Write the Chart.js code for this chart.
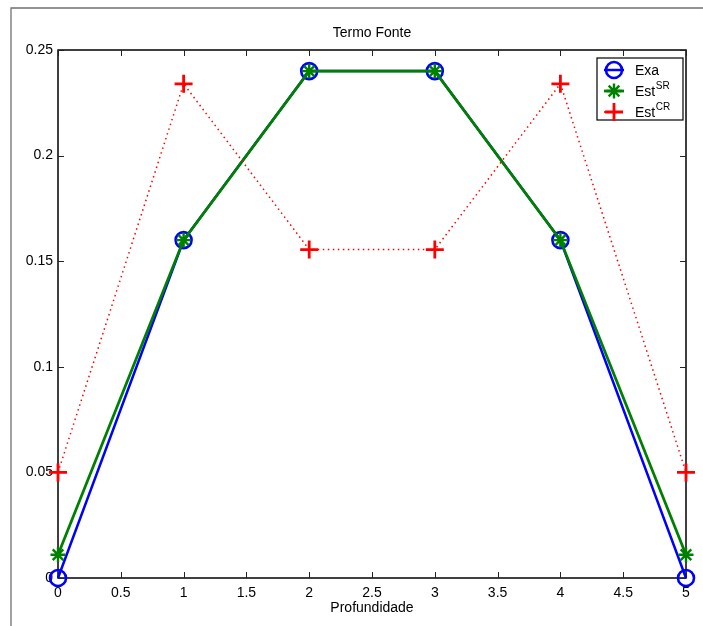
<!DOCTYPE html>
<html>
<head>
<meta charset="utf-8">
<script src="https://cdn.jsdelivr.net/npm/chart.js@4/dist/chart.umd.min.js"></script>
<style>
html,body{margin:0;padding:0;background:#fff;}
#wrap{position:relative;width:703px;height:626px;}
</style>
</head>
<body>
<div id="wrap"><canvas id="c" width="703" height="626"></canvas></div>
<script>
// ---- data ----
const depth = [0, 1, 2, 3, 4, 5];
const exa   = [0, 0.16, 0.24, 0.24, 0.16, 0];
const estSR = [0.011, 0.16, 0.24, 0.24, 0.16, 0.011];
const estCR = [0.05, 0.234, 0.1555, 0.1555, 0.234, 0.05];
const legendBase = ['Exa', 'Est', 'Est'];
const legendSup  = ['', 'SR', 'CR'];
const xTicks = [0, 0.5, 1, 1.5, 2, 2.5, 3, 3.5, 4, 4.5, 5];
const yTicks = [0, 0.05, 0.1, 0.15, 0.2, 0.25];
const titleText = 'Termo Fonte';
const xLabelText = 'Profundidade';

const FONT = '"Liberation Sans", Arial, Helvetica, sans-serif';
const toXY = (ys) => depth.map((x, i) => ({x, y: ys[i]}));
const fmt = v => String(Math.round(v * 100) / 100);

const decor = {
  id: 'decor',
  beforeDatasetsDraw(chart) {
    const ctx = chart.ctx;
    const a = chart.chartArea;
    const xs = chart.scales.x, ys = chart.scales.y;
    ctx.save();
    // outer figure frame
    ctx.strokeStyle = '#707070';
    ctx.lineWidth = 1.3;
    ctx.beginPath();
    ctx.moveTo(11, 626); ctx.lineTo(11, 8); ctx.lineTo(703, 8);
    ctx.stroke();
    // axes box
    ctx.strokeStyle = '#000';
    ctx.lineWidth = 1.5;
    ctx.strokeRect(a.left, a.top, a.right - a.left, a.bottom - a.top);
    // inward ticks
    ctx.lineWidth = 1;
    ctx.strokeStyle = '#222';
    const tl = 6;
    ctx.beginPath();
    xTicks.forEach(v => {
      const px = Math.round(xs.getPixelForValue(v)) + 0.5;
      ctx.moveTo(px, a.bottom); ctx.lineTo(px, a.bottom - tl);
      ctx.moveTo(px, a.top); ctx.lineTo(px, a.top + tl);
    });
    yTicks.forEach(v => {
      const py = Math.round(ys.getPixelForValue(v)) + 0.5;
      ctx.moveTo(a.left, py); ctx.lineTo(a.left + tl, py);
      ctx.moveTo(a.right, py); ctx.lineTo(a.right - tl, py);
    });
    ctx.stroke();
    // title and x label
    ctx.fillStyle = '#000';
    ctx.font = '14px ' + FONT;
    ctx.textAlign = 'center';
    ctx.textBaseline = 'middle';
    const cx = (a.left + a.right) / 2;
    ctx.fillText(titleText, cx, 33);
    ctx.fillText(xLabelText, cx, 608);
    ctx.restore();
  },
  afterDraw(chart) {
    const ctx = chart.ctx;
    ctx.save();
    // legend
    const lx = 597, ly = 58, lw = 86, lh = 62;
    ctx.fillStyle = '#fff';
    ctx.fillRect(lx, ly, lw, lh);
    ctx.strokeStyle = '#000';
    ctx.lineWidth = 1.2;
    ctx.strokeRect(lx, ly, lw, lh);
    const rows = [70, 91, 112];
    chart.data.datasets.forEach((ds, i) => {
      const y = rows[i];
      ctx.save();
      ctx.strokeStyle = ds.borderColor;
      ctx.lineWidth = ds.borderWidth;
      ctx.setLineDash(ds.borderDash || []);
      ctx.beginPath();
      ctx.moveTo(604, y); ctx.lineTo(624, y);
      ctx.stroke();
      ctx.setLineDash([]);
      ctx.lineWidth = ds.pointBorderWidth;
      const r = ds.pointRadius, mx = 614;
      ctx.beginPath();
      if (ds.pointStyle === 'circle') {
        ctx.arc(mx, y, r, 0, Math.PI * 2);
      } else if (ds.pointStyle === 'star') {
        for (let k = 0; k < 4; k++) {
          const ang = k * Math.PI / 4;
          ctx.moveTo(mx - r * Math.cos(ang), y - r * Math.sin(ang));
          ctx.lineTo(mx + r * Math.cos(ang), y + r * Math.sin(ang));
        }
      } else {
        ctx.moveTo(mx - r, y); ctx.lineTo(mx + r, y);
        ctx.moveTo(mx, y - r); ctx.lineTo(mx, y + r);
      }
      ctx.stroke();
      ctx.restore();
      ctx.fillStyle = '#000';
      ctx.textAlign = 'left';
      ctx.textBaseline = 'middle';
      ctx.font = '14px ' + FONT;
      ctx.fillText(legendBase[i], 635, y + 1);
      const w = ctx.measureText(legendBase[i]).width;
      if (legendSup[i]) {
        ctx.font = '10px ' + FONT;
        ctx.fillText(legendSup[i], 635 + w + 0.5, y - 5);
      }
    });
    ctx.restore();
  }
};

new Chart(document.getElementById('c'), {
  type: 'line',
  data: {
    datasets: [
      {
        label: 'Exa', data: toXY(exa), order: 3,
        borderColor: '#0000ff', borderWidth: 2.5,
        pointStyle: 'circle', pointRadius: 8, pointBorderWidth: 2.6,
        pointBorderColor: '#0000ff', pointBackgroundColor: 'rgba(0,0,0,0)',
        clip: false, tension: 0
      },
      {
        label: 'EstSR', data: toXY(estSR), order: 2,
        borderColor: '#008000', borderWidth: 2.8,
        pointStyle: 'star', pointRadius: 7.5, pointBorderWidth: 2.4,
        pointBorderColor: '#008000', pointBackgroundColor: 'rgba(0,0,0,0)',
        clip: false, tension: 0
      },
      {
        label: 'EstCR', data: toXY(estCR), order: 1,
        borderColor: '#ff0000', borderWidth: 1.5, borderDash: [1.5, 3.5],
        pointStyle: 'cross', pointRadius: 9, pointBorderWidth: 2.8,
        pointBorderColor: '#ff0000', pointBackgroundColor: 'rgba(0,0,0,0)',
        clip: false, tension: 0
      }
    ]
  },
  options: {
    responsive: false,
    animation: false,
    layout: { padding: { top: 50, right: 17, left: 0, bottom: 0 } },
    plugins: { legend: { display: false }, tooltip: { enabled: false }, title: { display: false } },
    scales: {
      x: {
        type: 'linear', min: 0, max: 5,
        afterFit: s => { s.height = 48; },
        afterBuildTicks: s => { s.ticks = xTicks.map(v => ({value: v})); },
        grid: { display: false, drawTicks: false },
        border: { display: false },
        ticks: { callback: fmt, padding: 7, color: '#000', font: { family: FONT, size: 14 }, maxRotation: 0, autoSkip: false }
      },
      y: {
        type: 'linear', min: 0, max: 0.25,
        afterFit: s => { s.width = 58; },
        afterBuildTicks: s => { s.ticks = yTicks.map(v => ({value: v})); },
        grid: { display: false, drawTicks: false },
        border: { display: false },
        ticks: { callback: fmt, padding: 5, color: '#000', font: { family: FONT, size: 14 }, autoSkip: false }
      }
    }
  },
  plugins: [decor]
});
</script>
</body>
</html>
